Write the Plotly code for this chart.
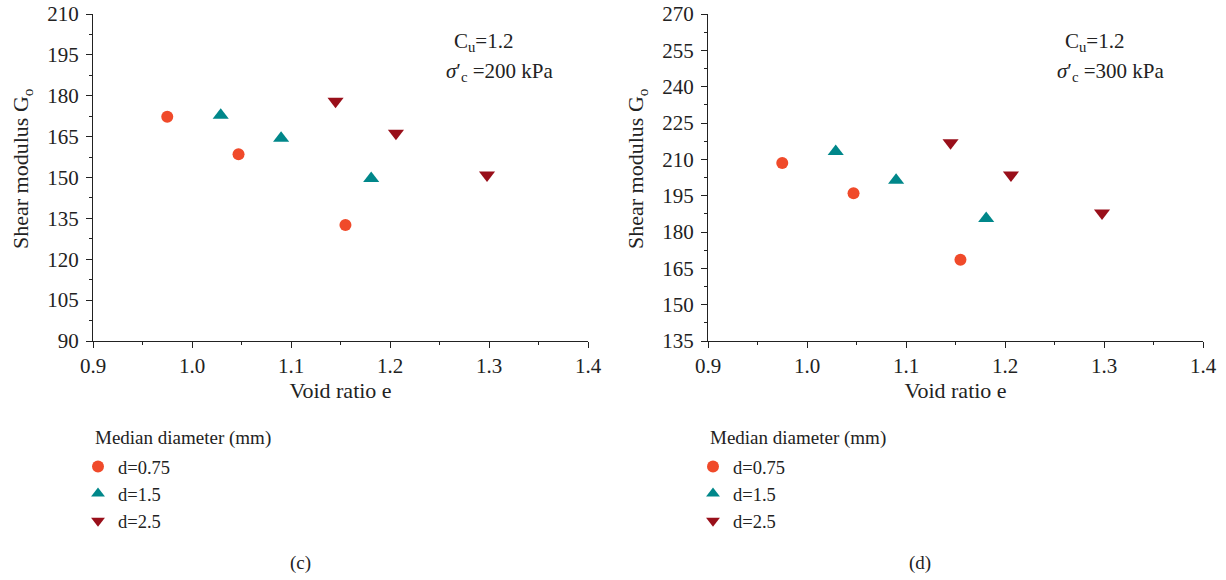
import plotly.graph_objects as go
from plotly.subplots import make_subplots

# ---- data ----
series_names = ["d=0.75", "d=1.5", "d=2.5"]
e_d075 = [0.975, 1.047, 1.155]
e_d15 = [1.029, 1.090, 1.181]
e_d25 = [1.145, 1.206, 1.298]

g_c_d075 = [172.3, 158.5, 132.6]
g_c_d15 = [172.8, 164.4, 149.6]
g_c_d25 = [178.0, 166.2, 150.9]

g_d_d075 = [208.5, 196.0, 168.5]
g_d_d15 = [213.2, 201.4, 185.6]
g_d_d25 = [216.8, 203.5, 187.8]

x_ticks = [0.9, 1.0, 1.1, 1.2, 1.3, 1.4]
y_ticks_c = [90, 105, 120, 135, 150, 165, 180, 195, 210]
y_ticks_d = [135, 150, 165, 180, 195, 210, 225, 240, 255, 270]

colors = ["#F04A2A", "#00878A", "#990F1A"]
symbols = ["circle", "triangle-up", "triangle-down"]
sizes = [12, 14, 14]

FONT = "Liberation Serif"
TXT = "#222"
W, H = 1226, 580
ml, mr, mt, mb = 93, 23, 14, 239
pw = W - ml - mr
ph = H - mt - mb


def px_x(p):
    return (p - ml) / pw


def px_y(p):
    return (mt + ph - p) / ph


fig = make_subplots(rows=1, cols=2)
fig.update_layout(
    xaxis=dict(domain=[0, px_x(588)]),
    xaxis2=dict(domain=[px_x(708), 1]),
)

xs = [e_d075, e_d15, e_d25]
ys_c = [g_c_d075, g_c_d15, g_c_d25]
ys_d = [g_d_d075, g_d_d15, g_d_d25]

for i in range(3):
    fig.add_trace(go.Scatter(
        x=xs[i], y=ys_c[i], mode="markers", name=series_names[i],
        marker=dict(symbol=symbols[i], color=colors[i], size=sizes[i]),
        legend="legend"), row=1, col=1)
for i in range(3):
    fig.add_trace(go.Scatter(
        x=xs[i], y=ys_d[i], mode="markers", name=series_names[i],
        marker=dict(symbol=symbols[i], color=colors[i], size=sizes[i]),
        legend="legend2"), row=1, col=2)

axis_common = dict(
    showline=True, linecolor=TXT, linewidth=1.3, mirror=False,
    showgrid=False, zeroline=False, ticks="outside", ticklen=6, tickwidth=1.2,
    tickcolor=TXT, tickfont=dict(family=FONT, size=21, color=TXT),
)
minor = dict(ticks="outside", ticklen=3, tickwidth=1, tickcolor=TXT, showgrid=False)

for c in (1, 2):
    fig.update_xaxes(
        range=[0.9, 1.4], tickvals=x_ticks, ticktext=[f"{v:.1f}" for v in x_ticks],
        minor=dict(dtick=0.05, tick0=0.9, **minor),
        title=dict(text="Void ratio e", font=dict(family=FONT, size=22, color=TXT), standoff=4),
        row=1, col=c, **axis_common)

fig.update_yaxes(range=[90, 210], tickvals=y_ticks_c, minor=dict(dtick=7.5, tick0=90, **minor),
                 ticklabelstandoff=3, row=1, col=1, **axis_common)
fig.update_yaxes(range=[135, 270], tickvals=y_ticks_d, minor=dict(dtick=7.5, tick0=135, **minor),
                 ticklabelstandoff=3, row=1, col=2, **axis_common)

leg_common = dict(
    font=dict(family=FONT, size=18.5, color=TXT),
    bgcolor="rgba(0,0,0,0)", yanchor="top", xanchor="left",
    itemsizing="constant", tracegroupgap=0, orientation="v",
)
fig.update_layout(
    legend=dict(x=px_x(78), y=px_y(448), **leg_common),
    legend2=dict(x=px_x(693), y=px_y(448), **leg_common),
)

ann_font = dict(family=FONT, size=21, color=TXT)
title_font = dict(family=FONT, size=22, color=TXT)
leg_title_font = dict(family=FONT, size=19, color=TXT)
annotations = [
    # y-axis titles
    dict(x=px_x(22), y=px_y(169), xref="paper", yref="paper", text="Shear modulus G<sub>o</sub>",
         textangle=-90, showarrow=False, xanchor="center", yanchor="middle", font=title_font),
    dict(x=px_x(637), y=px_y(169), xref="paper", yref="paper", text="Shear modulus G<sub>o</sub>",
         textangle=-90, showarrow=False, xanchor="center", yanchor="middle", font=title_font),
    # legend titles
    dict(x=px_x(93), y=px_y(438), xref="paper", yref="paper", text="Median diameter (mm)",
         showarrow=False, xanchor="left", yanchor="middle", font=leg_title_font),
    dict(x=px_x(708), y=px_y(438), xref="paper", yref="paper", text="Median diameter (mm)",
         showarrow=False, xanchor="left", yanchor="middle", font=leg_title_font),
    # condition labels
    dict(x=1.263, y=199.8, xref="x", yref="y", text="C<sub>u</sub>=1.2",
         showarrow=False, xanchor="left", yanchor="middle", font=ann_font),
    dict(x=1.255, y=188.8, xref="x", yref="y", text="<i>σ</i>′<sub>c</sub> =200 kPa",
         showarrow=False, xanchor="left", yanchor="middle", font=ann_font),
    dict(x=1.259, y=258.4, xref="x2", yref="y2", text="C<sub>u</sub>=1.2",
         showarrow=False, xanchor="left", yanchor="middle", font=ann_font),
    dict(x=1.251, y=246.0, xref="x2", yref="y2", text="<i>σ</i>′<sub>c</sub> =300 kPa",
         showarrow=False, xanchor="left", yanchor="middle", font=ann_font),
    # panel labels
    dict(x=px_x(300), y=px_y(563), xref="paper", yref="paper", text="(c)",
         showarrow=False, xanchor="center", yanchor="middle", font=leg_title_font),
    dict(x=px_x(920), y=px_y(563), xref="paper", yref="paper", text="(d)",
         showarrow=False, xanchor="center", yanchor="middle", font=leg_title_font),
]
fig.update_layout(
    annotations=annotations,
    width=W, height=H,
    margin=dict(l=ml, r=mr, t=mt, b=mb, autoexpand=False),
    paper_bgcolor="white", plot_bgcolor="white",
    font=dict(family=FONT, color=TXT),
)

fig.write_html("out.html")
